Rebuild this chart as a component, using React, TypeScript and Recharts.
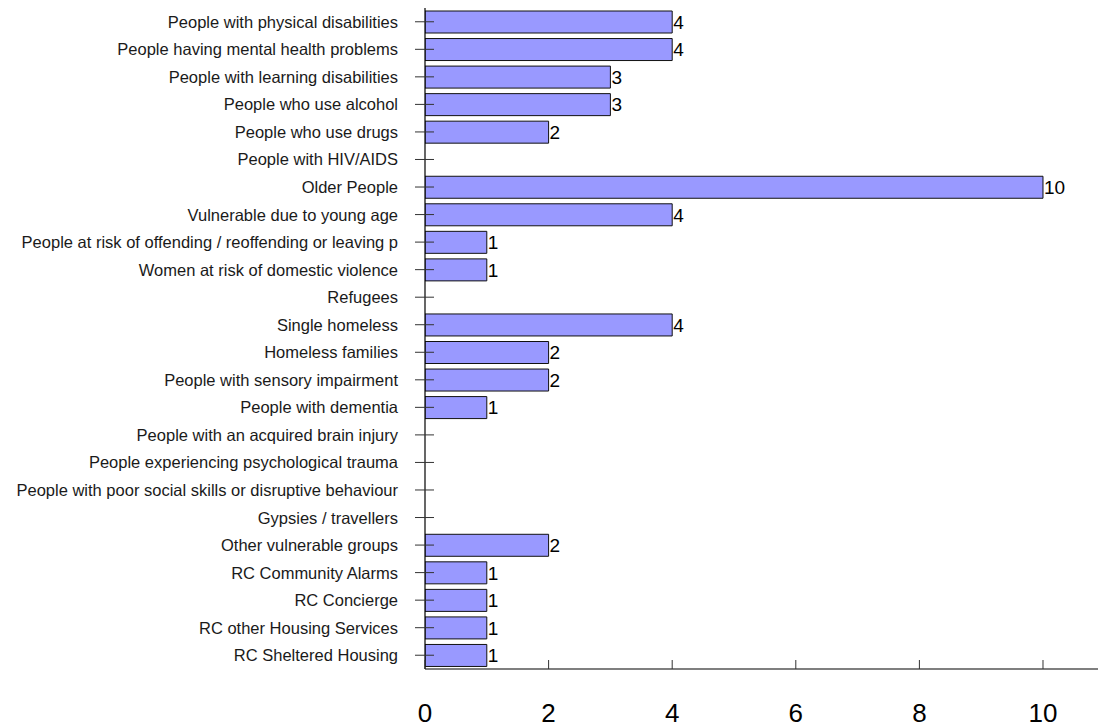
import React from "react";
import { BarChart, Bar, XAxis, YAxis, LabelList } from "recharts";

const categories = [
  "People with physical disabilities",
  "People having mental health problems",
  "People with learning disabilities",
  "People who use alcohol",
  "People who use drugs",
  "People with HIV/AIDS",
  "Older People",
  "Vulnerable due to young age",
  "People at risk of offending / reoffending or leaving p",
  "Women at risk of domestic violence",
  "Refugees",
  "Single homeless",
  "Homeless families",
  "People with sensory impairment",
  "People with dementia",
  "People with an acquired brain injury",
  "People experiencing psychological trauma",
  "People with poor social skills or disruptive behaviour",
  "Gypsies / travellers",
  "Other vulnerable groups",
  "RC Community Alarms",
  "RC Concierge",
  "RC other Housing Services",
  "RC Sheltered Housing",
];

const values: (number | null)[] = [
  4, 4, 3, 3, 2, null, 10, 4, 1, 1, null, 4, 2, 2, 1, null, null, null, null, 2, 1, 1, 1, 1,
];

const xTicks = [0, 2, 4, 6, 8, 10];

const data = categories.map((name, i) => ({ name, value: values[i] }));

const FONT = "'Liberation Sans', Arial, sans-serif";

const YTick = (props: any) => {
  const { x, y, payload } = props;
  return (
    <g>
      <line x1={x - 10} x2={x + 9} y1={y} y2={y} stroke="#333" strokeWidth={1} />
      <text
        x={x - 27}
        y={y}
        textAnchor="end"
        dominantBaseline="central"
        fontSize={16.5}
        fontFamily={FONT}
        fill="#1a1a1a"
      >
        {payload.value}
      </text>
    </g>
  );
};

const XTick = (props: any) => {
  const { x, y, payload } = props;
  return (
    <g>
      <line x1={x} x2={x} y1={y - 9} y2={y} stroke="#333" strokeWidth={1} />
      <text
        x={x}
        y={y + 53}
        textAnchor="middle"
        fontSize={26}
        fontFamily={FONT}
        fill="#000"
      >
        {payload.value}
      </text>
    </g>
  );
};

export default function App() {
  return (
    <div style={{ position: "absolute", left: 0, top: 0, background: "#fff" }}>
      <BarChart
        width={1098}
        height={728}
        data={data}
        layout="vertical"
        margin={{ top: 8, right: 0, bottom: 0, left: 0 }}
        barCategoryGap={0}
      >
        <XAxis
          type="number"
          domain={[0, 10.89]}
          ticks={xTicks}
          allowDataOverflow
          tickSize={0}
          tickMargin={0}
          tick={<XTick />}
          axisLine={{ stroke: "#000", strokeWidth: 1.2 }}
          height={59}
        />
        <YAxis
          type="category"
          dataKey="name"
          width={425}
          tickSize={0}
          tickMargin={0}
          tick={<YTick />}
          interval={0}
          axisLine={{ stroke: "#000", strokeWidth: 1.2 }}
        />
        <Bar
          dataKey="value"
          fill="#9999FF"
          stroke="#111"
          strokeWidth={1}
          barSize={22}
          isAnimationActive={false}
        >
          <LabelList
            dataKey="value"
            position="right"
            offset={1}
            fontSize={19}
            fontFamily={FONT}
            fill="#000"
          />
        </Bar>
      </BarChart>
    </div>
  );
}
